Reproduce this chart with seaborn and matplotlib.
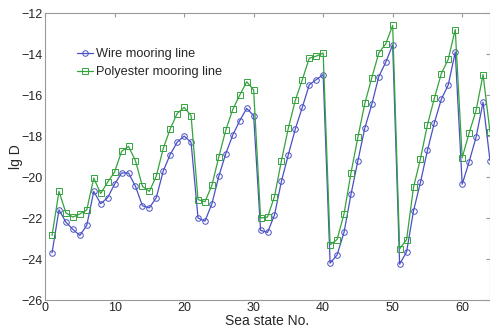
import numpy as np
import pandas as pd
import matplotlib
matplotlib.use("Agg")
import matplotlib.pyplot as plt
import seaborn as sns

sea_state = list(range(1, 65))
wire = [-23.7, -21.6, -22.2, -22.55, -22.85, -22.35, -20.7, -21.3, -21.0, -20.35,
        -19.8, -19.8, -20.45, -21.4, -21.5, -21.0, -19.7, -18.9, -18.3, -18.0,
        -18.3, -22.0, -22.15, -21.3, -19.95, -18.85, -17.95, -17.25, -16.65, -17.0,
        -22.6, -22.7, -21.85, -20.2, -18.9, -17.65, -16.6, -15.5, -15.25, -15.0,
        -24.2, -23.8, -22.7, -20.85, -19.2, -17.6, -16.45, -15.1, -14.4, -13.55,
        -24.25, -23.65, -21.65, -20.25, -18.7, -17.35, -16.2, -15.5, -13.9, -20.35,
        -19.25, -18.05, -16.35, -19.2]
polyester = [-22.85, -20.7, -21.75, -21.95, -21.8, -21.6, -20.05, -20.8, -20.25, -19.75,
             -18.75, -18.5, -19.2, -20.45, -20.7, -19.95, -18.6, -17.65, -16.9, -16.6,
             -17.0, -21.1, -21.2, -20.4, -19.0, -17.7, -16.7, -16.0, -15.35, -15.75,
             -22.0, -21.95, -20.95, -19.2, -17.6, -16.25, -15.25, -14.2, -14.1, -13.95,
             -23.3, -23.05, -21.8, -19.8, -18.05, -16.4, -15.15, -13.95, -13.5, -12.6,
             -23.5, -23.05, -20.5, -19.1, -17.45, -16.15, -14.95, -14.25, -12.8, -19.05,
             -17.85, -16.75, -15.0, -17.8]
series_names = ["Wire mooring line", "Polyester mooring line"]
colors = {"Wire mooring line": "#4a50c4", "Polyester mooring line": "#33a33d"}

df = pd.DataFrame({
    "x": sea_state * 2,
    "y": wire + polyester,
    "line": [series_names[0]] * len(wire) + [series_names[1]] * len(polyester),
})

sns.set_style("white")
plt.rcParams["font.family"] = ["Liberation Sans", "DejaVu Sans"]

fig = plt.figure(figsize=(4.9, 3.36), dpi=100)
ax = fig.add_axes([0.092, 0.107, 0.908, 0.854])

sns.lineplot(data=df, x="x", y="y", hue="line", style="line",
             palette=colors, markers={series_names[0]: "o", series_names[1]: "s"},
             dashes=False, linewidth=0.9, markersize=4.0, legend=False, ax=ax)
for ln in ax.lines:
    c = ln.get_color()
    ln.set_markerfacecolor("none")
    ln.set_markeredgecolor(c)
    ln.set_markeredgewidth(0.7)

ax.set_xlim(0, 64)
ax.set_ylim(-26, -12)
ax.set_xticks([0, 10, 20, 30, 40, 50, 60])
ax.set_yticks(np.arange(-26, -11, 2))
ax.set_xlabel("Sea state No.", fontsize=10, labelpad=0)
ax.set_ylabel("lg D", fontsize=10, labelpad=-1)
ax.tick_params(axis="both", direction="in", length=3, color="#999999",
               labelsize=9, top=True, right=True, pad=1.5)
for s in ax.spines.values():
    s.set_color("#999999")
    s.set_linewidth(0.8)

ax.legend(handles=ax.lines[:2], labels=series_names, loc="upper left",
          bbox_to_anchor=(0.06, 0.895), frameon=False, fontsize=9.2,
          handlelength=1.3, handletextpad=0.2, borderaxespad=0, labelspacing=0.45)

fig.savefig("out.png", dpi=100)
